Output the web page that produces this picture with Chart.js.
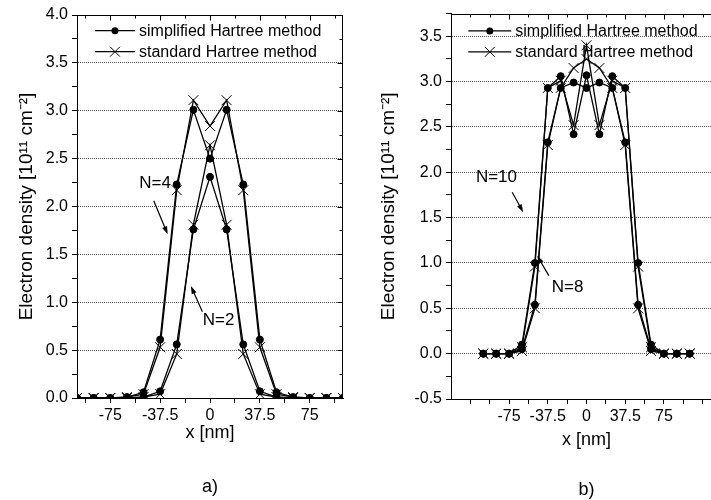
<!DOCTYPE html>
<html>
<head>
<meta charset="utf-8">
<script src="https://cdn.jsdelivr.net/npm/chart.js@4.4.0/dist/chart.umd.min.js"></script>
<style>
html, body { margin: 0; padding: 0; background: #fff; overflow: hidden; width: 711px; height: 500px; }
#chartA { position: absolute; left: 0; top: 0; }
#chartB { position: absolute; left: 356px; top: 0; }
</style>
</head>
<body>
<canvas id="chartA" width="355" height="500"></canvas>
<canvas id="chartB" width="374" height="500"></canvas>
<script>
const FONT = "'Liberation Sans', Arial, Helvetica, sans-serif";

// x positions of the grid points [nm]
const xNm = [-100, -87.5, -75, -62.5, -50, -37.5, -25, -12.5, 0, 12.5, 25, 37.5, 50, 62.5, 75, 87.5, 100];

// panel a)
const n4Simplified = [0, 0, 0, 0.01, 0.06, 0.61, 2.23, 3.01, 2.50, 3.01, 2.23, 0.61, 0.06, 0.01, 0, 0, 0];
const n4Standard   = [0, 0, 0, 0.01, 0.04, 0.53, 2.17, 3.11, 2.84, 3.11, 2.17, 0.53, 0.04, 0.01, 0, 0, 0];
const n2Simplified = [0, 0, 0, 0, 0.01, 0.07, 0.56, 1.76, 2.31, 1.76, 0.56, 0.07, 0.01, 0, 0, 0, 0];
const n2Standard   = [0, 0, 0, 0, 0.01, 0.04, 0.46, 1.81, 2.64, 1.81, 0.46, 0.04, 0.01, 0, 0, 0, 0];

// panel b)
const n10Simplified = [0, 0, 0, 0.10, 1.00, 2.93, 3.06, 2.42, 3.07, 2.42, 3.06, 2.93, 1.00, 0.10, 0, 0, 0];
const n10Standard   = [0, 0, 0, 0.07, 0.96, 2.93, 3.01, 2.52, 3.40, 2.52, 3.01, 2.93, 0.96, 0.07, 0, 0, 0];
const n8Simplified  = [0, 0, 0, 0.05, 0.54, 2.33, 2.93, 2.99, 2.93, 2.99, 2.93, 2.33, 0.54, 0.05, 0, 0, 0];
const n8Standard    = [0, 0, 0, 0.03, 0.50, 2.30, 2.93, 3.15, 3.25, 3.15, 2.93, 2.30, 0.50, 0.03, 0, 0, 0];

// ticks
const xTicksA = [-93.75, -75, -56.25, -37.5, -18.75, 0, 18.75, 37.5, 56.25, 75, 93.75];
const xTicksB = [-112.5, -93.75, -75, -56.25, -37.5, -18.75, 0, 18.75, 37.5, 56.25, 75, 93.75, 112.5];
const xLabelled = [-75, -37.5, 0, 37.5, 75];
const yTicksA = [0, 0.25, 0.5, 0.75, 1, 1.25, 1.5, 1.75, 2, 2.25, 2.5, 2.75, 3, 3.25, 3.5, 3.75, 4];
const yLabelledA = [0, 0.5, 1, 1.5, 2, 2.5, 3, 3.5, 4];
const yTicksB = [-0.5, -0.25, 0, 0.25, 0.5, 0.75, 1, 1.25, 1.5, 1.75, 2, 2.25, 2.5, 2.75, 3, 3.25, 3.5, 3.75];
const yLabelledB = [-0.5, 0, 0.5, 1, 1.5, 2, 2.5, 3, 3.5];

const legendNames = ["simplified Hartree method", "standard Hartree method"];
const yTitle = "Electron density [10\u00B9\u00B9 cm\u207B\u00B2]";

function series(values, kind) {
    const dot = kind === "simplified";
    return {
        data: xNm.map((x, i) => ({ x: x, y: values[i] })),
        borderColor: "#000",
        borderWidth: 1.3,
        pointStyle: dot ? "circle" : "crossRot",
        pointRadius: dot ? 3.5 : 7,
        pointBorderWidth: 1,
        pointBackgroundColor: "#000",
        pointBorderColor: "#000",
        tension: 0,
        fill: false
    };
}

function drawMarker(ctx, kind, x, y) {
    ctx.beginPath();
    if (kind === "simplified") {
        ctx.arc(x, y, 3.5, 0, Math.PI * 2);
        ctx.fill();
    } else {
        const d = 7 * Math.SQRT1_2;
        ctx.moveTo(x - d, y - d); ctx.lineTo(x + d, y + d);
        ctx.moveTo(x - d, y + d); ctx.lineTo(x + d, y - d);
        ctx.stroke();
    }
}

// frame, inward ticks, legend, annotations and caption
const extras = {
    id: "extras",
    afterDraw(chart, args, opts) {
        const { ctx, chartArea: a, scales: { x, y } } = chart;
        ctx.save();
        ctx.strokeStyle = "#000";
        ctx.fillStyle = "#000";
        ctx.lineWidth = 1;

        const top = Math.round(a.top) + 0.5;
        const right = Math.round(a.right) - 0.5;
        ctx.beginPath();
        ctx.moveTo(a.left, top); ctx.lineTo(right + 0.5, top);
        ctx.moveTo(right, top); ctx.lineTo(right, a.bottom);
        ctx.stroke();

        ctx.beginPath();
        opts.xTicks.forEach(v => {
            const px = Math.round(x.getPixelForValue(v)) + 0.5;
            const len = xLabelled.includes(v) ? 5 : 3;
            ctx.moveTo(px, top); ctx.lineTo(px, top + len);
        });
        opts.yTicks.forEach(v => {
            const py = Math.round(y.getPixelForValue(v)) + 0.5;
            const len = opts.yLabelled.includes(v) ? 5 : 3;
            ctx.moveTo(right, py); ctx.lineTo(right - len, py);
        });
        ctx.stroke();

        // legend
        const lg = opts.legend;
        ctx.font = "16px " + FONT;
        ctx.textBaseline = "middle";
        ctx.textAlign = "left";
        ["simplified", "standard"].forEach((kind, i) => {
            const ly = a.top + lg.rows[i];
            const lx = a.left + lg.dx;
            ctx.lineWidth = 1.3;
            ctx.beginPath();
            ctx.moveTo(lx, ly); ctx.lineTo(lx + lg.len, ly);
            ctx.stroke();
            ctx.lineWidth = 1;
            drawMarker(ctx, kind, lx + lg.len / 2, ly);
            ctx.fillText(legendNames[i], lx + lg.len + 4, ly + 1);
        });

        // N labels with arrows
        ctx.font = "17px " + FONT;
        ctx.textAlign = "center";
        opts.notes.forEach(n => {
            ctx.fillText(n.text, x.getPixelForValue(n.x), y.getPixelForValue(n.y));
            const x1 = x.getPixelForValue(n.from[0]), y1 = y.getPixelForValue(n.from[1]);
            const x2 = x.getPixelForValue(n.to[0]), y2 = y.getPixelForValue(n.to[1]);
            const ang = Math.atan2(y2 - y1, x2 - x1);
            ctx.lineWidth = 1.2;
            ctx.beginPath();
            ctx.moveTo(x1, y1); ctx.lineTo(x2 - 5 * Math.cos(ang), y2 - 5 * Math.sin(ang));
            ctx.stroke();
            ctx.beginPath();
            ctx.moveTo(x2, y2);
            ctx.lineTo(x2 - 8 * Math.cos(ang) + 2.6 * Math.sin(ang), y2 - 8 * Math.sin(ang) - 2.6 * Math.cos(ang));
            ctx.lineTo(x2 - 8 * Math.cos(ang) - 2.6 * Math.sin(ang), y2 - 8 * Math.sin(ang) + 2.6 * Math.cos(ang));
            ctx.closePath();
            ctx.fill();
        });

        // panel caption
        ctx.font = "18px " + FONT;
        ctx.fillText(opts.caption, x.getPixelForValue(0), opts.captionY);
        ctx.restore();
    }
};

function makeChart(id, cfg) {
    return new Chart(document.getElementById(id), {
        type: "line",
        data: { datasets: cfg.datasets },
        options: {
            responsive: false,
            animation: false,
            events: [],
            layout: { padding: cfg.padding },
            plugins: {
                legend: { display: false },
                tooltip: { enabled: false },
                extras: {
                    xTicks: cfg.xTicks,
                    yTicks: cfg.yTicks,
                    yLabelled: cfg.yLabelled,
                    legend: cfg.legend,
                    notes: cfg.notes,
                    caption: cfg.caption,
                    captionY: cfg.captionY
                }
            },
            scales: {
                x: {
                    type: "linear",
                    min: cfg.xMin,
                    max: cfg.xMax,
                    afterBuildTicks: s => { s.ticks = cfg.xTicks.map(v => ({ value: v })); },
                    afterFit: s => { s.height = cfg.xAxisHeight; },
                    ticks: {
                        autoSkip: false,
                        maxRotation: 0,
                        padding: 3,
                        color: "#000",
                        font: { family: FONT, size: 16 },
                        callback: v => xLabelled.includes(v) ? String(v) : ""
                    },
                    grid: { drawOnChartArea: false, tickLength: 5, tickColor: "#000", tickWidth: 1 },
                    border: { color: "#000", width: 1 },
                    title: {
                        display: true,
                        text: "x [nm]",
                        color: "#000",
                        font: { family: FONT, size: 18 },
                        padding: { top: 0, bottom: cfg.xTitlePad }
                    }
                },
                y: {
                    type: "linear",
                    min: cfg.yMin,
                    max: cfg.yMax,
                    afterBuildTicks: s => { s.ticks = cfg.yTicks.map(v => ({ value: v })); },
                    afterFit: s => { s.width = cfg.yAxisWidth; },
                    ticks: {
                        autoSkip: false,
                        padding: 4,
                        color: "#000",
                        font: { family: FONT, size: 16 },
                        callback: v => cfg.yLabelled.includes(v) ? v.toFixed(1) : ""
                    },
                    grid: {
                        color: c => (c.tick && cfg.yLabelled.includes(c.tick.value)) ? "#555" : "rgba(0,0,0,0)",
                        lineWidth: 1,
                        tickLength: 5,
                        tickColor: "#000",
                        tickWidth: 1
                    },
                    border: { color: "#000", width: 1, dash: [1, 1] },
                    title: {
                        display: true,
                        text: yTitle,
                        color: "#000",
                        font: { family: FONT, size: 19 },
                        padding: { top: cfg.yTitlePad, bottom: 0 }
                    }
                }
            }
        },
        plugins: [extras]
    });
}

makeChart("chartA", {
    datasets: [
        series(n4Standard, "standard"),
        series(n4Simplified, "simplified"),
        series(n2Standard, "standard"),
        series(n2Simplified, "simplified")
    ],
    padding: { left: 0, right: 12, top: 15, bottom: 0 },
    xMin: -100, xMax: 100, xTicks: xTicksA, xAxisHeight: 102, xTitlePad: 56,
    yMin: 0, yMax: 4, yTicks: yTicksA, yLabelled: yLabelledA, yAxisWidth: 77, yTitlePad: 15,
    legend: { dx: 18, rows: [15.7, 36.7], len: 40 },
    notes: [
        { text: "N=4", x: -41.3, y: 2.24, from: [-42.3, 2.06], to: [-31.8, 1.71] },
        { text: "N=2", x: 6.5, y: 0.81, from: [-5.7, 0.90], to: [-14.4, 1.17] }
    ],
    caption: "a)", captionY: 487
});

makeChart("chartB", {
    datasets: [
        series(n10Standard, "standard"),
        series(n10Simplified, "simplified"),
        series(n8Standard, "standard"),
        series(n8Simplified, "simplified")
    ],
    padding: { left: 0, right: 8, top: 11, bottom: 0 },
    xMin: -131.25, xMax: 131.25, xTicks: xTicksB, xAxisHeight: 101, xTitlePad: 49,
    yMin: -0.5, yMax: 3.75, yTicks: yTicksB, yLabelled: yLabelledB, yAxisWidth: 95, yTitlePad: 21,
    legend: { dx: 17.3, rows: [17.3, 38.3], len: 43 },
    notes: [
        { text: "N=10", x: -87.2, y: 1.94, from: [-72, 1.78], to: [-61.3, 1.56] },
        { text: "N=8", x: -18.4, y: 0.73, from: [-36.5, 0.86], to: [-47.8, 1.08] }
    ],
    caption: "b)", captionY: 490
});
</script>
</body>
</html>
